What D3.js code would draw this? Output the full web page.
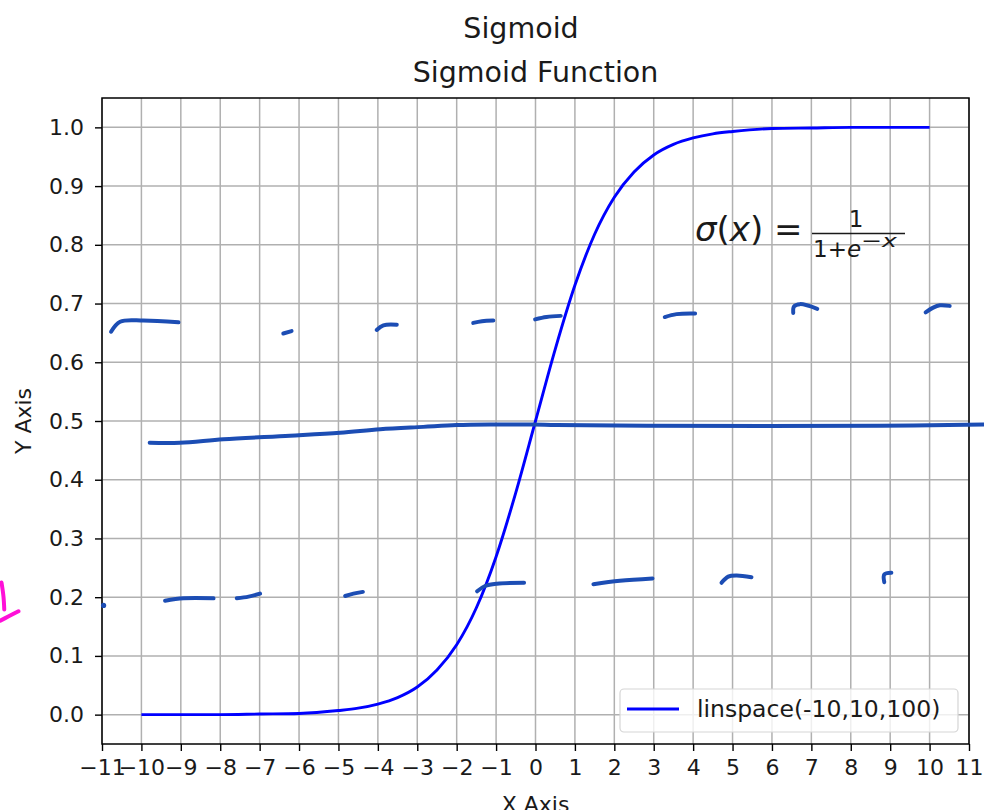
<!DOCTYPE html>
<html>
<head>
<meta charset="utf-8">
<script src="https://cdn.jsdelivr.net/npm/d3@7/dist/d3.min.js"></script>
<style>
	body { margin: 0; background: #fff; }
	text { font-family: "DejaVu Sans", sans-serif; fill: #1a1a1a; }
</style>
</head>
<body>
<div id="chart"></div>
<script>
// sigmoid, linspace(-10,10,100)
var sigX = [-10, -9, -8, -7, -6, -5, -4.5, -4, -3.5, -3, -2.5, -2, -1.5, -1, -0.5, 0,
	0.5, 1, 1.5, 2, 2.5, 3, 3.5, 4, 4.5, 5, 6, 7, 8, 9, 10];
var sigY = [0.000, 0.000, 0.000, 0.001, 0.002, 0.007, 0.011, 0.018, 0.029, 0.047, 0.076, 0.119, 0.182, 0.269, 0.378, 0.500,
	0.622, 0.731, 0.818, 0.881, 0.924, 0.953, 0.971, 0.982, 0.989, 0.993, 0.998, 0.999, 1.000, 1.000, 1.000];

var xTicks = [-11, -10, -9, -8, -7, -6, -5, -4, -3, -2, -1, 0, 1, 2, 3, 4, 5, 6, 7, 8, 9, 10, 11];
var yTicks = [0.0, 0.1, 0.2, 0.3, 0.4, 0.5, 0.6, 0.7, 0.8, 0.9, 1.0];

var legendLabel = "linspace(-10,10,100)";
var suptitle = "Sigmoid";
var title = "Sigmoid Function";

// hand-drawn pen marks over the figure, in data units
var penTop = [
	[[-10.77, 0.652], [-10.54, 0.669], [-9.95, 0.671], [-9.06, 0.668]],
	[[-6.40, 0.649], [-6.19, 0.653]],
	[[-4.03, 0.655], [-3.86, 0.663], [-3.52, 0.664]],
	[[-1.58, 0.667], [-1.36, 0.670], [-1.07, 0.671]],
	[[-0.01, 0.673], [0.28, 0.677], [0.64, 0.679]],
	[[3.28, 0.677], [3.58, 0.682], [4.05, 0.683]],
	[[6.54, 0.684], [6.56, 0.695], [6.71, 0.699], [7.15, 0.691]],
	[[9.90, 0.685], [10.09, 0.693], [10.26, 0.697], [10.51, 0.696]]
];
var penMiddle = [
	[[-9.79, 0.463], [-9.02, 0.463], [-7.92, 0.469], [-6.23, 0.475], [-4.96, 0.480], [-3.94, 0.486],
	 [-2.85, 0.490], [-2.00, 0.493], [-1.15, 0.494], [-0.06, 0.494], [0.54, 0.493], [2.82, 0.492],
	 [8.74, 0.492], [11.37, 0.494]]
];
var penBottom = [
	[[-9.40, 0.194], [-8.93, 0.198], [-8.17, 0.198]],
	[[-7.58, 0.198], [-7.28, 0.201], [-6.99, 0.206]],
	[[-4.83, 0.202], [-4.62, 0.206], [-4.38, 0.209]],
	[[-1.48, 0.210], [-1.28, 0.219], [-0.98, 0.223], [-0.29, 0.2245]],
	[[1.47, 0.222], [2.14, 0.228], [2.97, 0.232]],
	[[4.72, 0.2245], [4.89, 0.235], [5.10, 0.237], [5.48, 0.234]],
	[[8.85, 0.2255], [8.85, 0.2385], [9.03, 0.2414]]
];
var penDot = [[-10.96, 0.186]];
var pinkMark = [
	[[-13.55, 0.225], [-13.50, 0.201], [-13.48, 0.179]],
	[[-13.58, 0.160], [-13.38, 0.167], [-13.12, 0.176]]
];

function init() {
	var w = 984;
	var h = 810;
	var left = 102, top = 98;
	var pw = 867, ph = 646;

	var svg = d3.select("#chart")
		.append("svg")
		.attr("width", w)
		.attr("height", h);

	var x = d3.scaleLinear().domain([-11, 11]).range([0, pw]);
	var y = d3.scaleLinear().domain([-0.05, 1.05]).range([ph, 0]);

	var g = svg.append("g").attr("transform", `translate(${left},${top})`);

	// grid
	g.append("g").selectAll("line")
		.data(xTicks)
		.join("line")
			.attr("x1", d => x(d)).attr("x2", d => x(d))
			.attr("y1", 0).attr("y2", ph)
			.attr("stroke", "#b0b0b0").attr("stroke-width", 1.5);
	g.append("g").selectAll("line")
		.data(yTicks)
		.join("line")
			.attr("x1", 0).attr("x2", pw)
			.attr("y1", d => y(d)).attr("y2", d => y(d))
			.attr("stroke", "#b0b0b0").attr("stroke-width", 1.5);

	// sigmoid curve
	var pts = sigX.map((d, i) => [d, sigY[i]]);
	var line = d3.line()
		.x(d => x(d[0]))
		.y(d => y(d[1]))
		.curve(d3.curveMonotoneX);
	g.append("path")
		.datum(pts)
		.attr("d", line)
		.attr("fill", "none")
		.attr("stroke", "#0000ff")
		.attr("stroke-width", 2.9);

	// axes
	g.append("g")
		.attr("transform", `translate(0,${ph})`)
		.call(d3.axisBottom(x).tickValues(xTicks).tickSize(7).tickPadding(8))
		.call(a => a.select(".domain").remove())
		.call(a => a.selectAll("line").attr("stroke", "#000").attr("stroke-width", 1.4))
		.call(a => a.selectAll("text").attr("font-size", 22).attr("font-family", "DejaVu Sans").attr("fill", "#1a1a1a"));

	g.append("g")
		.call(d3.axisLeft(y).tickValues(yTicks).tickFormat(d3.format(".1f")).tickSize(7).tickPadding(11))
		.call(a => a.select(".domain").remove())
		.call(a => a.selectAll("line").attr("stroke", "#000").attr("stroke-width", 1.4))
		.call(a => a.selectAll("text").attr("font-size", 22).attr("font-family", "DejaVu Sans").attr("fill", "#1a1a1a"));

	// spines
	g.append("rect")
		.attr("width", pw).attr("height", ph)
		.attr("fill", "none")
		.attr("stroke", "#000")
		.attr("stroke-width", 1.5);

	// formula
	var fx = svg.append("g");
	fx.append("text")
		.attr("x", 695).attr("y", 241)
		.attr("font-size", 34)
		.html('<tspan font-style="italic">σ</tspan>(<tspan font-style="italic">x</tspan>)');
	fx.append("text")
		.attr("x", 774).attr("y", 241)
		.attr("font-size", 34)
		.text("=");
	fx.append("text")
		.attr("x", 856).attr("y", 227)
		.attr("text-anchor", "middle")
		.attr("font-size", 23)
		.text("1");
	fx.append("line")
		.attr("x1", 812).attr("x2", 905)
		.attr("y1", 233.5).attr("y2", 233.5)
		.attr("stroke", "#1a1a1a").attr("stroke-width", 1.3);
	fx.append("text")
		.attr("x", 813).attr("y", 257)
		.attr("font-size", 23)
		.html('1+<tspan font-style="italic">e</tspan>');
	fx.append("text")
		.attr("x", 861).attr("y", 247)
		.attr("font-size", 18)
		.attr("textLength", 36)
		.attr("lengthAdjust", "spacingAndGlyphs")
		.html('−<tspan font-style="italic">x</tspan>');

	// legend
	var lg = svg.append("g");
	lg.append("rect")
		.attr("x", 620).attr("y", 689)
		.attr("width", 338).attr("height", 43)
		.attr("rx", 4)
		.attr("fill", "#fff").attr("fill-opacity", 0.8)
		.attr("stroke", "#d5d5d5").attr("stroke-width", 1.2);
	lg.append("line")
		.attr("x1", 627).attr("x2", 679)
		.attr("y1", 709).attr("y2", 709)
		.attr("stroke", "#0000ff").attr("stroke-width", 2.9);
	lg.append("text")
		.attr("x", 697).attr("y", 717)
		.attr("font-size", 23.5)
		.text(legendLabel);

	// titles and axis labels
	svg.append("text")
		.attr("x", 521).attr("y", 38)
		.attr("text-anchor", "middle")
		.attr("font-size", 28.5)
		.text(suptitle);
	svg.append("text")
		.attr("x", left + pw / 2).attr("y", 82)
		.attr("text-anchor", "middle")
		.attr("font-size", 28.5)
		.text(title);
	svg.append("text")
		.attr("x", left + pw / 2).attr("y", 812)
		.attr("text-anchor", "middle")
		.attr("font-size", 22)
		.text("X Axis");
	svg.append("text")
		.attr("transform", `translate(31,${top + y(0.5)}) rotate(-90)`)
		.attr("text-anchor", "middle")
		.attr("font-size", 22)
		.text("Y Axis");

	// pen marks
	var pen = d3.line()
		.x(d => x(d[0]))
		.y(d => y(d[1]))
		.curve(d3.curveCatmullRom);
	g.append("g")
		.selectAll("path")
		.data(penTop.concat(penMiddle, penBottom))
		.join("path")
			.attr("d", pen)
			.attr("fill", "none")
			.attr("stroke", "#1c4db4")
			.attr("stroke-width", 4)
			.attr("stroke-linecap", "round")
			.attr("stroke-linejoin", "round");
	g.append("g")
		.selectAll("circle")
		.data(penDot)
		.join("circle")
			.attr("cx", d => x(d[0]))
			.attr("cy", d => y(d[1]))
			.attr("r", 2.6)
			.attr("fill", "#1c4db4");
	g.append("g")
		.selectAll("path")
		.data(pinkMark)
		.join("path")
			.attr("d", pen)
			.attr("fill", "none")
			.attr("stroke", "#ff10d8")
			.attr("stroke-width", 4)
			.attr("stroke-linecap", "round");
}

window.onload = init;
</script>
</body>
</html>
